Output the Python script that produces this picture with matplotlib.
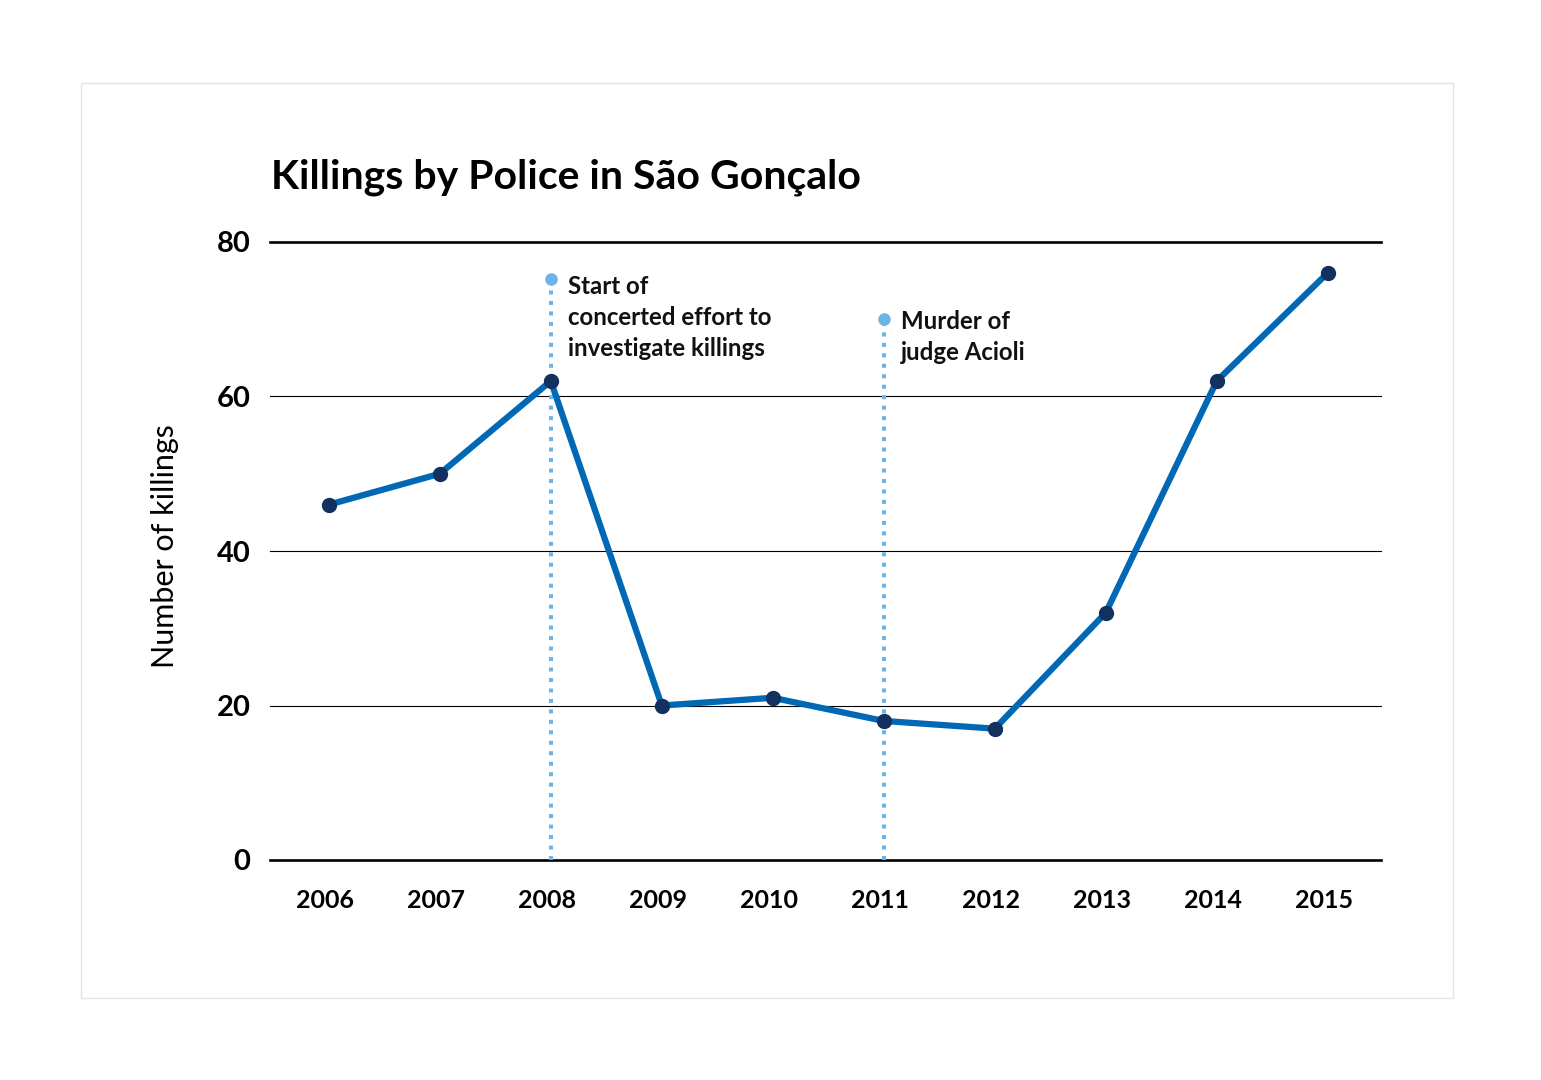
import matplotlib
matplotlib.use('Agg')
import matplotlib.pyplot as plt
import matplotlib.transforms as mtransforms
from matplotlib.patches import Rectangle

# Data
years = [2006, 2007, 2008, 2009, 2010, 2011, 2012, 2013, 2014, 2015]
killings = [46, 50, 62, 20, 21, 18, 17, 32, 62, 76]
y_ticks = [0, 20, 40, 60, 80]

event_years = [2008, 2011]
event_tops = [75.2, 70]
event_labels = ['Start of\nconcerted effort to\ninvestigate killings',
                'Murder of\njudge Acioli']

TITLE = 'Killings by Police in São Gonçalo'
Y_LABEL = 'Number of killings'

LINE_COLOR = '#0068b4'
MARKER_COLOR = '#12315e'
EVENT_COLOR = '#6cb4e6'

plt.rcParams['font.family'] = ['Lato', 'DejaVu Sans']

W, H = 1541, 1080
fig = plt.figure(figsize=(W / 100, H / 100), dpi=100)

# light frame around the whole graphic
fig.patches.append(Rectangle((81 / W, 1 - 998 / H), (1453 - 81) / W, (998 - 83) / H,
                             transform=fig.transFigure, fill=False,
                             edgecolor='#e4e4e4', linewidth=1))

ax = fig.add_axes([270 / W, 1 - 860 / H, (1381 - 270) / W, (860 - 242) / H])
ax.set_xlim(2005.47, 2015.48)
ax.set_ylim(0, 80)

for s in ax.spines.values():
    s.set_visible(False)

# horizontal rules
for v in y_ticks:
    lw = 1.9 if v in (0, 80) else 0.8
    ax.axhline(v, color='black', lw=lw, zorder=1, clip_on=False)

# event markers (label nudge in pixels, up from the dot)
nudges = [4, 9]
for yr, top, lab, nud in zip(event_years, event_tops, event_labels, nudges):
    ax.plot([yr, yr], [0, top], color=EVENT_COLOR, lw=2.9,
            linestyle=(0, (1, 1.6)), dash_capstyle='butt', zorder=2)
    ax.plot([yr], [top], 'o', color=EVENT_COLOR, ms=8, zorder=2)
    off = mtransforms.ScaledTranslation(17 / 100, nud / 100, fig.dpi_scale_trans)
    ax.text(yr, top, lab, transform=ax.transData + off, ha='left', va='top',
            fontsize=17.3, fontweight='bold', linespacing=1.42, color='#111111')

ax.plot(years, killings, color=LINE_COLOR, lw=4.5, zorder=3,
        solid_joinstyle='round', solid_capstyle='round')
ax.plot(years, killings, 'o', color=MARKER_COLOR, ms=10, zorder=4)

ax.set_yticks(y_ticks)
ax.set_xticks(years)
ax.tick_params(axis='both', length=0)
ax.tick_params(axis='y', pad=14, labelsize=21)
ax.tick_params(axis='x', pad=21, labelsize=18)
for lab in ax.get_yticklabels() + ax.get_xticklabels():
    lab.set_fontweight('bold')
xoff = mtransforms.ScaledTranslation(-4 / 100, 0, fig.dpi_scale_trans)
for lab in ax.get_xticklabels():
    lab.set_transform(lab.get_transform() + xoff)

fig.text(165 / W, 1 - 546 / H, Y_LABEL, rotation=90, ha='center', va='center',
         fontsize=22)
fig.text(271 / W, 1 - 188 / H, TITLE, ha='left', va='baseline',
         fontsize=29.5, fontweight='bold')

fig.savefig('out.png', dpi=100)
